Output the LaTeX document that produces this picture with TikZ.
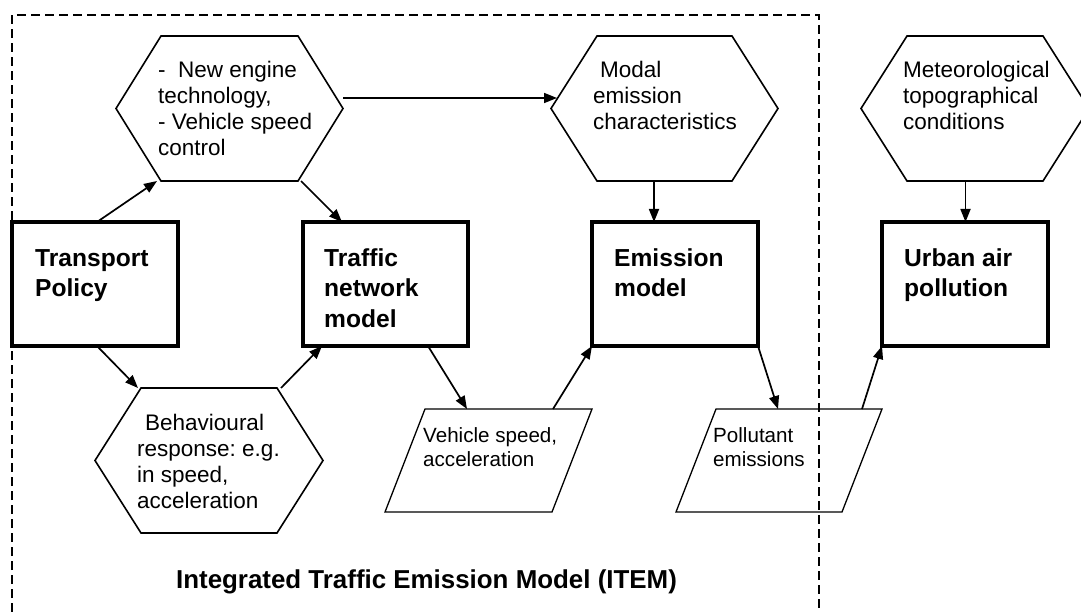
\documentclass[tikz,border=0pt]{standalone}
\usepackage{fontspec}
\setmainfont{Liberation Sans}
\usetikzlibrary{arrows.meta}
\frenchspacing
\newcommand\mlines[1]{\vtop{\halign{##\hfil\cr#1\crcr}}}
\newcommand\drawhex[2]{\draw[hexline] (#1.west) -- ([xshift=#2]#1.north west) -- ([xshift=-#2]#1.north east) -- (#1.east) -- ([xshift=-#2]#1.south east) -- ([xshift=#2]#1.south west) -- cycle;}
\newcommand\drawpara[2]{\draw[paraline] ([xshift=#2]#1.north west) -- (#1.north east) -- ([xshift=-#2]#1.south east) -- (#1.south west) -- cycle;}
\begin{document}
\begin{tikzpicture}[x=1pt,y=-1pt,
  rbox/.style={draw,line width=3.3pt,inner sep=0,outer sep=0,minimum width=166pt,minimum height=124pt},
  hexbox/.style={inner sep=0,outer sep=0},
  hexline/.style={line width=1.6pt,line join=miter},
  paraline/.style={line width=1.3pt},
  arr/.style={line width=1.7pt,-{Triangle[length=13pt,width=10pt]}},
  dashframe/.style={line width=1.7pt,dash pattern=on 9pt off 5pt},
  boxtxt/.style={anchor=base west,inner sep=0,font=\fontsize{24.6}{30}\selectfont\bfseries},
  hextxt/.style={anchor=base west,inner sep=0,font=\fontsize{22.5}{26}\selectfont},
  paratxt/.style={anchor=base west,inner sep=0,font=\fontsize{20.6}{24.5}\selectfont},
]
\fill[white] (0,0) rectangle (1081,612);
\useasboundingbox (0,0) rectangle (1081,612);

% dashed frame
\draw[dashframe] (12,612) -- (12,15) -- (819,15) -- (819,612);

% rectangles
\node[rbox] (tp) at (95,284) {};
\node[rbox,minimum width=165pt] (tn) at (385.5,284) {};
\node[rbox] (em) at (675,284) {};
\node[rbox] (ua) at (965,284) {};

% hexagons and parallelograms (frames)
\node[hexbox,minimum width=227pt,minimum height=145pt] (h1) at (229.5,108.5) {};
\node[hexbox,minimum width=227pt,minimum height=145pt] (h2) at (664.5,108.5) {};
\node[hexbox,minimum width=228pt,minimum height=145pt] (h3) at (975,108.5) {};
\node[hexbox,minimum width=228pt,minimum height=145pt] (h4) at (209,460.5) {};
\node[hexbox,minimum width=207pt,minimum height=103pt] (p1) at (488.5,460.5) {};
\node[hexbox,minimum width=206pt,minimum height=103pt] (p2) at (779,460.5) {};
\drawhex{h1}{45pt}
\drawhex{h2}{46pt}
\drawhex{h3}{46pt}
\drawhex{h4}{46pt}
\drawpara{p1}{40pt}
\drawpara{p2}{40pt}

% texts
\node[boxtxt] (tpt) at (35,267) {\mlines{Transport\cr Policy}};
\node[boxtxt] (tnt) at (324,267) {\mlines{Traffic\cr network\cr model}};
\node[boxtxt] (emt) at (614,267) {\mlines{Emission\cr model}};
\node[boxtxt] (uat) at (904,267) {\mlines{Urban air\cr pollution}};

\node[hextxt] (h1t) at (158,78) {\mlines{-\ \ New engine\cr technology,\cr - Vehicle speed\cr control}};
\node[hextxt] (h2t) at (593,78) {\mlines{\kern7pt Modal\cr emission\cr characteristics}};
\node[hextxt] (h3t) at (903,78) {\mlines{Meteorological\cr topographical\cr conditions}};
\node[hextxt] (h4t) at (137,430) {\mlines{\kern8pt Behavioural\cr response: e.g.\cr in speed,\cr acceleration}};

\node[paratxt] (p1t) at (423,442) {\mlines{Vehicle speed,\cr acceleration}};
\node[paratxt] (p2t) at (713,442) {\mlines{Pollutant\cr emissions}};

\node[anchor=base,inner sep=0,font=\fontsize{25.9}{30}\selectfont\bfseries] (title) at (426.5,588) {Integrated Traffic Emission Model (ITEM)};

% connectors
\draw[arr] ([xshift=85pt]tp.north west) -- ([xshift=41pt]h1.south west);
\draw[arr] ([xshift=-42pt]h1.south east) -- ([xshift=39pt]tn.north west);
\draw[arr] ([xshift=85pt]tp.south west) -- ([xshift=43pt]h4.north west);
\draw[arr] ([xshift=-42pt]h4.north east) -- ([xshift=19pt]tn.south west);
\draw[arr] ([yshift=10.5pt]h1.east) -- ([yshift=10.5pt,xshift=6pt]h2.west);
\draw[arr] ([xshift=-10.5pt]h2.south) -- ([xshift=-21pt]em.north);
\draw[arr] ([xshift=-9.5pt]h3.south) -- ([xshift=0.5pt]ua.north);
\draw[arr] ([xshift=125pt]tn.south west) -- ([xshift=82pt]p1.north west);
\draw[arr] ([xshift=168pt]p1.north west) -- (em.south west);
\draw[arr] (em.south east) -- ([xshift=102pt]p2.north west);
\draw[arr] ([xshift=186pt]p2.north west) -- (ua.south west);
\end{tikzpicture}
\end{document}
